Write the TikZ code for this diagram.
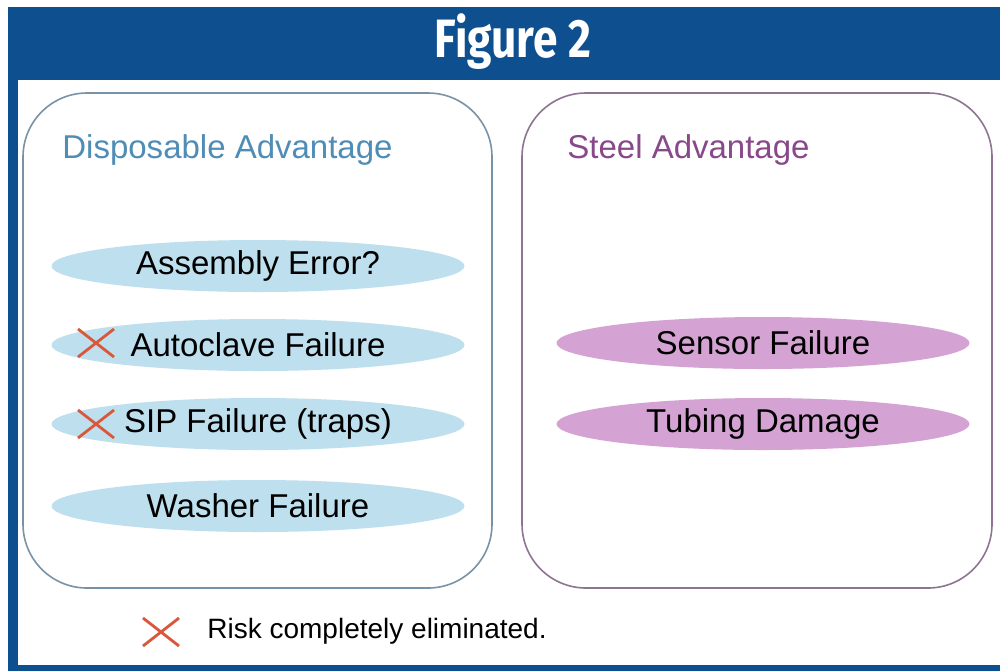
\documentclass[tikz,border=0pt]{standalone}
\usepackage{fontspec}
\setmainfont{Liberation Sans}
\newfontfamily\headfont[FakeStretch=0.82]{Fira Sans}
\usepackage{xcolor}
\usetikzlibrary{shapes.geometric}

\definecolor{frameblue}{HTML}{0E4F8F}
\definecolor{dispblue}{HTML}{4F8CB6}
\definecolor{dispfill}{HTML}{BEDFED}
\definecolor{displine}{HTML}{7893A8}
\definecolor{steelpurple}{HTML}{88488A}
\definecolor{steelfill}{HTML}{D4A3D3}
\definecolor{steelline}{HTML}{8E7492}
\definecolor{crossred}{HTML}{D9583C}

\tikzset{
    risk/.style={ellipse, minimum width=206.5pt, minimum height=26pt, inner sep=0pt,
        font=\fontsize{16.5}{18}\selectfont},
    sidebox/.style={line width=0.8pt, rounded corners=32pt},
    riskx/.pic={\draw[crossred, line width=1.4pt] (-18,-14) -- (18,14) (-18,14) -- (18,-14);}
}

\begin{document}
\begin{tikzpicture}[x=0.5pt, y=-0.5pt]
        \useasboundingbox (0,0) rectangle (1000,671);

        % Frame and title bar
        \fill[frameblue] (8,7) rectangle (1000,671);
        \fill[white] (18,80) rectangle (1000,665);
        \node[white, font=\headfont\bfseries\fontsize{27}{30}\selectfont] (title) at (513,42) {Figure 2};

        % Disposable side
        \begin{scope}
            \draw[sidebox, displine] (23,93) rectangle (492,588);
            \node[dispblue, anchor=base west, inner sep=0pt, font=\fontsize{16.5}{18}\selectfont] (disp) at (62,158) {Disposable Advantage};
            \node[risk, fill=dispfill] (asm) at (258,266) {Assembly Error?};
            \node[risk, fill=dispfill] (autoclave) at (258,345) {Autoclave Failure};
            \node[risk, fill=dispfill] (sip) at (258,424) {SIP Failure (traps)};
            \node[risk, fill=dispfill] (washer) at (258,506) {Washer Failure};
            \pic at (96,343) {riskx};
            \pic at (96,424) {riskx};
        \end{scope}

        % Steel side
        \begin{scope}
            \draw[sidebox, steelline] (522,93) rectangle (992,588);
            \node[steelpurple, anchor=base west, inner sep=0pt, font=\fontsize{16.5}{18}\selectfont] (steel) at (567,158) {Steel Advantage};
            \node[risk, fill=steelfill] (sensor) at (763,343) {Sensor Failure};
            \node[risk, fill=steelfill] (tubing) at (763,424) {Tubing Damage};
        \end{scope}

        % Legend
        \pic at (161,632) {riskx};
        \node[anchor=base west, inner sep=0pt, font=\fontsize{14}{16}\selectfont] (legend) at (207,638) {Risk completely eliminated.};

    \end{tikzpicture}
\end{document}
